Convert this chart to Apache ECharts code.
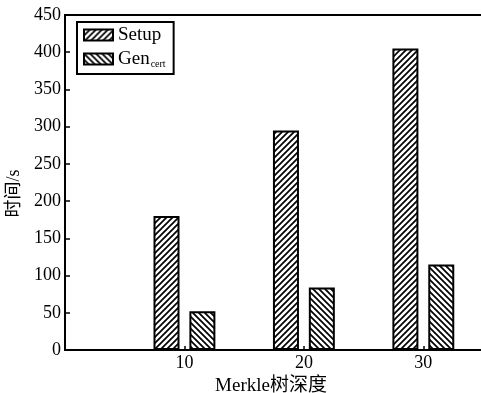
<!DOCTYPE html>
<html>
<head>
<meta charset="utf-8">
<script src="https://cdn.jsdelivr.net/npm/echarts@6/dist/echarts.min.js"></script>
<style>html,body{margin:0;padding:0;background:#fff;}#c{width:481px;height:393px;}</style>
</head>
<body>
<div id="c"></div>
<script>
const depths = [10, 20, 30];
const setupTimes = [180, 295, 405];
const genCertTimes = [52, 84, 115];
const yTicks = [0, 50, 100, 150, 200, 250, 300, 350, 400, 450];
const xTickLabels = ['10', '20', '30'];

const FONT = "'Liberation Serif', 'Noto Sans CJK SC', serif";

function hatch(forward) {
  const s = 6;
  const c = document.createElement('canvas');
  c.width = s; c.height = s;
  const g = c.getContext('2d');
  g.fillStyle = '#fff'; g.fillRect(0, 0, s, s);
  g.strokeStyle = '#000'; g.lineWidth = 1.7;
  g.beginPath();
  if (forward) {
    g.moveTo(-1, s + 1); g.lineTo(s + 1, -1);
    g.moveTo(-1, 1); g.lineTo(1, -1);
    g.moveTo(s - 1, s + 1); g.lineTo(s + 1, s - 1);
  } else {
    g.moveTo(-1, -1); g.lineTo(s + 1, s + 1);
    g.moveTo(-1, s - 1); g.lineTo(1, s + 1);
    g.moveTo(s - 1, -1); g.lineTo(s + 1, 1);
  }
  g.stroke();
  return c;
}

const chart = echarts.init(document.getElementById('c'), null, {renderer: 'canvas'});
chart.setOption({
  animation: false,
  backgroundColor: '#fff',
  textStyle: {fontFamily: FONT, color: '#000'},
  grid: {left: 65, top: 15, right: -14, bottom: 43, show: true, borderColor: '#000', borderWidth: 2,
         backgroundColor: 'transparent', containLabel: false, outerBoundsMode: 'none'},
  legend: {
    left: 77, top: 22, orient: 'vertical',
    padding: [4, 8, 5, 6],
    borderColor: '#000', borderWidth: 2,
    itemWidth: 29, itemHeight: 11, itemGap: 2,
    icon: 'rect',
    textStyle: {
      fontFamily: FONT, color: '#000', fontSize: 19,
      rich: {
        a: {fontFamily: FONT, fontSize: 19, lineHeight: 20, verticalAlign: 'bottom', color: '#000'},
        s: {fontFamily: FONT, fontSize: 10, lineHeight: 10, padding: [12, 0, 0, 1], verticalAlign: 'bottom', color: '#000'}
      }
    },
    formatter: function (n) { return n === 'Gen_cert' ? '{a|Gen}{s|cert}' : '{a|' + n + '}'; },
    data: ['Setup', 'Gen_cert']
  },
  xAxis: {
    type: 'value', min: 0, max: 36, interval: 10,
    name: 'Merkle树深度', nameLocation: 'middle', nameGap: 19,
    nameTextStyle: {fontFamily: FONT, fontSize: 19, color: '#000', padding: [0, 18, 0, 0]},
    axisLine: {show: true, lineStyle: {color: '#000', width: 2}},
    axisTick: {show: true, inside: true, length: 4, lineStyle: {color: '#000', width: 1.5}},
    axisLabel: {
      margin: 4, fontFamily: FONT, fontSize: 18, color: '#000',
      formatter: function (v) { const i = depths.indexOf(v); return i >= 0 ? xTickLabels[i] : ''; }
    },
    splitLine: {show: false}
  },
  yAxis: {
    type: 'value', min: yTicks[0], max: yTicks[yTicks.length - 1], interval: yTicks[1] - yTicks[0],
    name: '时间/s', nameLocation: 'middle', nameGap: 38,
    nameTextStyle: {fontFamily: FONT, fontSize: 18, color: '#000', padding: [0, 22, 0, 0]},
    axisLine: {show: true, lineStyle: {color: '#000', width: 2}},
    axisTick: {show: true, inside: true, length: 5, lineStyle: {color: '#000', width: 1.5}},
    axisLabel: {margin: 4, fontFamily: FONT, fontSize: 18, color: '#000'},
    splitLine: {show: false}
  },
  series: [
    {
      name: 'Setup', type: 'bar', barWidth: 26, barGap: '38%',
      itemStyle: {color: {image: hatch(true), repeat: 'repeat'}, borderColor: '#000', borderWidth: 2},
      data: depths.map((d, i) => [d, setupTimes[i]])
    },
    {
      name: 'Gen_cert', type: 'bar', barWidth: 26, barGap: '38%',
      itemStyle: {color: {image: hatch(false), repeat: 'repeat'}, borderColor: '#000', borderWidth: 2},
      data: depths.map((d, i) => [d, genCertTimes[i]])
    }
  ]
});
</script>
</body>
</html>
